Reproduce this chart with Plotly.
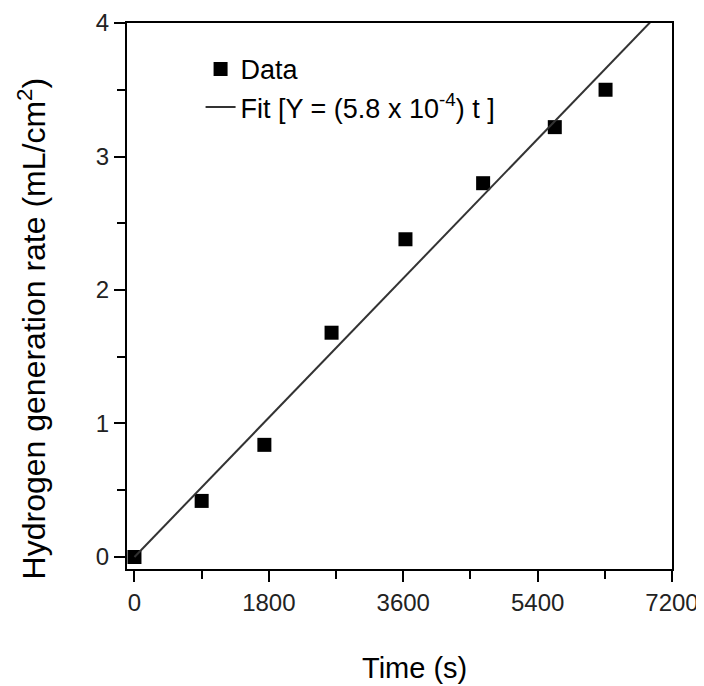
import plotly.graph_objects as go

# measured points (time in s, volume per area)
time_s = [0, 900, 1740, 2640, 3630, 4670, 5630, 6310]
h2_rate = [0, 0.42, 0.84, 1.68, 2.38, 2.80, 3.22, 3.50]

# fit line Y = 5.8e-4 t, end points
fit_t = [0, 6950]
fit_y = [0, 4.03]

x_ticks = [0, 1800, 3600, 5400, 7200]
y_ticks = [0, 1, 2, 3, 4]

sans = "Liberation Sans, Arial, sans-serif"

fig = go.Figure()
fig.add_trace(go.Scatter(x=time_s, y=h2_rate, mode="markers", name="Data",
                         marker=dict(symbol="square", size=14, color="black")))
fig.add_trace(go.Scatter(x=fit_t, y=fit_y, mode="lines",
                         name="Fit [Y = (5.8 x 10<sup>-4</sup>) t ]",
                         line=dict(color="#333333", width=2)))

axis_common = dict(showline=True, linecolor="black", linewidth=2, mirror=True,
                   ticks="outside", ticklen=11, tickwidth=2, tickcolor="black",
                   showgrid=False, zeroline=False, automargin=False,
                   tickfont=dict(family=sans, size=24, color="#222222"))

fig.update_xaxes(range=[-100, 7200], tickvals=x_ticks,
                 minor=dict(dtick=900, ticks="outside", ticklen=8, tickwidth=2, tickcolor="black"),
                 **axis_common)
fig.update_yaxes(range=[-0.09, 4], tickvals=y_ticks,
                 minor=dict(dtick=0.5, ticks="outside", ticklen=8, tickwidth=2, tickcolor="black"),
                 **axis_common)

fig.add_annotation(text="Time (s)", xref="paper", yref="paper", x=0.528, y=-0.182,
                   xanchor="center", yanchor="middle",
                   showarrow=False, font=dict(family=sans, size=29, color="black"))
fig.add_annotation(text="Hydrogen generation rate (mL/cm<sup>2</sup>)", xref="paper", yref="paper",
                   x=-0.175, y=0.44, xanchor="center", yanchor="middle", textangle=-90,
                   showarrow=False, font=dict(family=sans, size=32, color="black"))

# page body adds an 8px offset, so the figure is a bit smaller than the window
fig.update_layout(
    width=696, height=678,
    margin=dict(l=119, r=32, t=15, b=117),
    plot_bgcolor="white", paper_bgcolor="white",
    legend=dict(x=0.135, y=0.96, xanchor="left", yanchor="top",
                bgcolor="rgba(0,0,0,0)", font=dict(family=sans, size=27, color="black"),
                tracegroupgap=0),
)

fig.write_html("out.html")
